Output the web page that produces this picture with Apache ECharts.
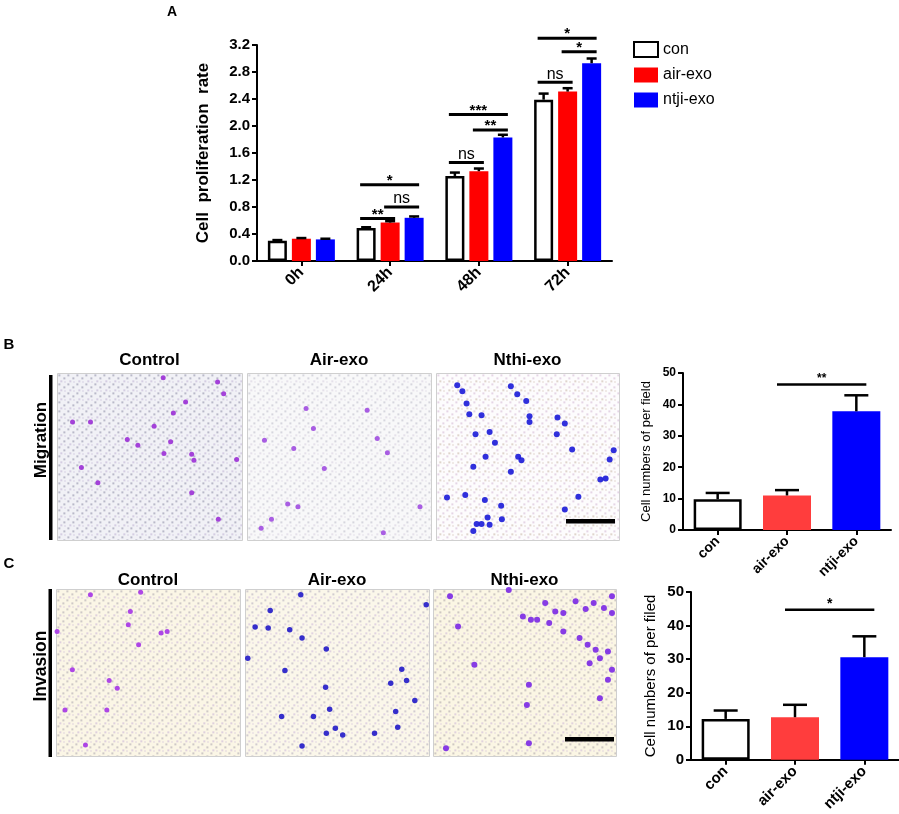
<!DOCTYPE html>
<html><head><meta charset="utf-8">
<script src="https://cdn.jsdelivr.net/npm/echarts@6/dist/echarts.min.js"></script>
<style>html,body{margin:0;padding:0;background:#fff}#c{width:899px;height:814px}</style>
</head><body><div id="c"></div>
<script>
// ---------- Panel A data ----------
const hours = ['0h', '24h', '48h', '72h'];
const groupNames = ['con', 'air-exo', 'ntji-exo'];
const conRate = [0.30, 0.49, 1.26, 2.39];
const airRate = [0.33, 0.57, 1.33, 2.51];
const ntjiRate = [0.32, 0.64, 1.83, 2.93];
const conRateErr = [0.01, 0.01, 0.05, 0.09];
const airRateErr = [0.01, 0.02, 0.04, 0.05];
const ntjiRateErr = [0.01, 0.02, 0.04, 0.07];
// [hour index, from group, to group, height, label]
const rateBrackets = [
  [1, 0, 2, 1.13, '*'], [1, 0, 1, 0.63, '**'], [1, 1, 2, 0.80, 'ns'],
  [2, 0, 2, 2.17, '***'], [2, 1, 2, 1.94, '**'], [2, 0, 1, 1.46, 'ns'],
  [3, 0, 2, 3.30, '*'], [3, 1, 2, 3.10, '*'], [3, 0, 1, 2.65, 'ns']
];
// ---------- Panel B / C data ----------
const countCats = ['con', 'air-exo', 'ntji-exo'];
const migCounts = [9.8, 11.0, 37.8];
const migErr = [2.0, 1.7, 5.1];
const invCounts = [12.2, 12.7, 30.6];
const invErr = [2.5, 3.7, 6.2];
const migBrackets = [[1, 2, 46.3, '**']];
const invBrackets = [[1, 2, 44.7, '*']];
const fieldTitles = ['Control', 'Air-exo', 'Nthi-exo'];
// stained cells visible in the micrographs, [x %, y %] of each field
const migControlCells = [[57.4,2.8],[86.8,5.4],[69.5,17.3],[62.9,23.9],[52.5,31.9],[18.1,29.3],[8.4,29.3],[38.0,39.8],[43.7,43.2],[61.4,41.2],[72.8,48.6],[74.0,52.2],[57.8,48.2],[97.1,51.8],[13.2,56.6],[22.1,65.7],[72.8,71.7],[87.2,87.6],[90.1,12.4]];
const migAirCells = [[32.1,21.3],[36.1,33.3],[65.3,22.3],[70.8,39.2],[76.3,47.8],[25.4,45.2],[9.5,40.2],[42.0,57.2],[22.1,78.5],[27.7,80.1],[94.0,80.1],[13.3,87.6],[7.7,93.0],[74.1,95.6]];
const migNthiCells = [[11.6,7.4],[14.4,11.0],[16.7,18.3],[18.2,24.7],[24.9,25.3],[21.6,36.7],[29.3,35.3],[32.2,41.8],[27.1,50.2],[20.4,56.2],[40.9,8.0],[44.4,12.7],[49.3,16.7],[51.1,25.9],[51.1,29.3],[44.9,50.2],[46.7,52.2],[40.9,59.2],[66.0,36.7],[70.4,30.3],[66.4,26.7],[74.4,45.8],[97.1,46.2],[94.9,51.8],[89.8,63.7],[92.7,63.1],[6.0,74.5],[16.0,73.1],[26.7,76.1],[35.6,79.5],[36.0,87.6],[28.2,86.5],[22.2,90.4],[24.9,90.4],[29.3,90.8],[20.4,94.6],[70.4,81.7],[77.8,74.1]];
const invControlCells = [[18.7,3.4],[46.0,2.0],[40.4,13.4],[60.4,25.4],[57.1,26.4],[39.3,21.4],[44.9,33.4],[8.9,48.4],[28.9,54.8],[33.3,59.4],[27.6,72.4],[4.9,72.4],[16.0,93.4],[0.6,25.4]];
const invAirCells = [[13.7,12.8],[30.3,3.4],[5.5,22.8],[12.6,23.4],[24.3,24.4],[31.0,29.4],[44.2,36.0],[1.5,41.4],[21.7,48.8],[85.2,48.0],[87.8,54.8],[79.2,56.4],[43.8,58.8],[46.0,72.0],[19.9,76.4],[37.2,76.4],[49.1,83.4],[44.2,86.4],[53.1,87.4],[70.4,86.4],[83.0,82.8],[92.3,66.8],[81.9,73.4],[31.0,94.0],[98.5,9.4]];
const invNthiCells = [[9.3,4.4],[13.7,22.4],[61.3,8.4],[66.8,13.4],[71.2,25.4],[77.9,7.4],[83.4,12.0],[87.8,8.4],[93.4,11.4],[97.8,14.4],[53.5,18.4],[56.9,18.4],[63.5,20.4],[80.1,29.4],[84.5,33.4],[88.9,36.4],[91.2,41.4],[95.6,37.4],[85.6,44.4],[97.8,48.4],[95.6,54.4],[91.2,65.4],[52.4,57.4],[51.3,69.4],[52.4,92.4],[7.1,95.4],[41.4,0.6],[22.6,45.4],[49.1,16.4],[71.2,14.4],[97.8,4.4]];

// ---------- styles / layout ----------
const FONT = '"Liberation Sans", Arial, sans-serif';
const BAR_A = 19, GAP_A = 5;
const gridA = {left: 257, top: 45, width: 355, height: 216};
const gridB = {left: 683, top: 373, width: 208, height: 157};
const gridC = {left: 691, top: 592, width: 208, height: 168};
const fieldsB = [[57, 373, 185, 167], [247, 373, 184, 167], [436, 373, 183, 167]];
const fieldsC = [[56, 589, 184, 167], [245, 589, 184, 167], [433, 589, 183, 167]];

function pattern(bg, dot, dot2) {
  const c = document.createElement('canvas');
  c.width = 9; c.height = 9;
  const x = c.getContext('2d');
  x.fillStyle = bg; x.fillRect(0, 0, 9, 9);
  x.fillStyle = dot;
  x.fillRect(1, 1, 1.6, 1.6); x.fillRect(6, 4, 1.6, 1.6);
  x.fillStyle = dot2;
  x.fillRect(3, 7, 1.5, 1.5); x.fillRect(7, 8, 1, 1);
  return {image: c, repeat: 'repeat'};
}
const fieldFills = [
  pattern('#f1f1f6', '#9a9ab0', '#c0b2d4'),
  pattern('#f8f8f9', '#c4c4cf', '#d7cfe0'),
  pattern('#fdfcfd', '#d8c0da', '#c9b7a8'),
  pattern('#fbf6e6', '#b7b0b6', '#c9b3d6'),
  pattern('#fbf7ea', '#bcb5c2', '#cdb8da'),
  pattern('#fbf6e4', '#b6aeb0', '#cdb6d8')
];

function axisCommon(fs) {
  return {
    axisLine: {show: true, lineStyle: {color: '#000', width: 2}},
    axisTick: {show: true, lineStyle: {color: '#000', width: 2}, length: 5},
    axisLabel: {color: '#000', fontFamily: FONT, fontWeight: 'bold', fontSize: fs},
    splitLine: {show: false}
  };
}
function catAxis(grid, data, fs) {
  return Object.assign(axisCommon(fs), {gridIndex: grid, type: 'category', data: data,
    axisTick: {show: true, alignWithLabel: true, lineStyle: {color: '#000', width: 2}, length: 5},
    axisLabel: {color: '#000', fontFamily: FONT, fontWeight: 'bold', fontSize: fs, rotate: 45, margin: 9}});
}

function errSeries(name, vals, errs, offset, xi, capW, lw) {
  return {
    type: 'custom', name: name, xAxisIndex: xi, yAxisIndex: xi, z: 5,
    data: vals.map((v, i) => [i, v, errs[i]]),
    encode: {x: 0, y: 1},
    renderItem: function (p, api) {
      const i = api.value(0), v = api.value(1), e = api.value(2);
      const a = api.coord([i, v]), b = api.coord([i, v + e]);
      const x = a[0] + offset;
      return {type: 'group', children: [
        {type: 'line', shape: {x1: x, y1: a[1], x2: x, y2: b[1]}, style: {stroke: '#000', lineWidth: lw}},
        {type: 'line', shape: {x1: x - capW / 2, y1: b[1], x2: x + capW / 2, y2: b[1]}, style: {stroke: '#000', lineWidth: lw}}
      ]};
    }
  };
}

const option = {
  animation: false,
  backgroundColor: '#fff',
  textStyle: {fontFamily: FONT},
  legend: {
    left: 628, top: 36, orient: 'vertical', itemWidth: 24, itemHeight: 15, itemGap: 9,
    data: groupNames, textStyle: {fontSize: 16, color: '#000', fontFamily: FONT}, icon: 'rect'
  },
  grid: [gridA, gridB, gridC].concat(fieldsB.concat(fieldsC).map(f => ({left: f[0], top: f[1], width: f[2], height: f[3]}))),
  xAxis: [catAxis(0, hours, 16), catAxis(1, countCats, 14), catAxis(2, countCats, 15)]
    .concat([3, 4, 5, 6, 7, 8].map(g => ({gridIndex: g, type: 'value', min: 0, max: 100, show: false}))),
  yAxis: [
    Object.assign(axisCommon(15), {gridIndex: 0, type: 'value', min: 0, max: 3.2, interval: 0.4,
      name: 'Cell  proliferation  rate', nameLocation: 'middle', nameGap: 45,
      nameTextStyle: {fontSize: 17, fontWeight: 'bold', color: '#000', fontFamily: FONT},
      axisLabel: {color: '#000', fontFamily: FONT, fontWeight: 'bold', fontSize: 15, margin: 7, formatter: v => v.toFixed(1)}}),
    Object.assign(axisCommon(12), {gridIndex: 1, type: 'value', min: 0, max: 50, interval: 10,
      name: 'Cell numbers of per field', nameLocation: 'middle', nameGap: 30,
      nameTextStyle: {fontSize: 13, color: '#000', fontFamily: FONT},
      axisLabel: {color: '#000', fontFamily: FONT, fontWeight: 'bold', fontSize: 12, margin: 7}}),
    Object.assign(axisCommon(15), {gridIndex: 2, type: 'value', min: 0, max: 50, interval: 10,
      name: 'Cell numbers of per filed', nameLocation: 'middle', nameGap: 33,
      nameTextStyle: {fontSize: 15, color: '#000', fontFamily: FONT},
      axisLabel: {color: '#000', fontFamily: FONT, fontWeight: 'bold', fontSize: 15, margin: 7}})
  ].concat([3, 4, 5, 6, 7, 8].map(g => ({gridIndex: g, type: 'value', min: 0, max: 100, inverse: true, show: false}))),
  series: [],
  graphic: []
};

// Panel A bars
const rateSets = [[conRate, conRateErr], [airRate, airRateErr], [ntjiRate, ntjiRateErr]];
const rateStyles = [
  {color: '#fff', borderColor: '#000', borderWidth: 2.5},
  {color: '#ff0000'},
  {color: '#0000ff'}
];
rateSets.forEach((s, gi) => {
  option.series.push({type: 'bar', name: groupNames[gi], xAxisIndex: 0, yAxisIndex: 0,
    data: s[0], barWidth: BAR_A, barGap: (GAP_A / BAR_A * 100) + '%', itemStyle: rateStyles[gi]});
});
rateSets.forEach((s, gi) => {
  option.series.push(errSeries('err' + gi, s[0], s[1], (gi - 1) * (BAR_A + GAP_A), 0, 10, 2.5));
});
option.series.push({
  type: 'custom', name: 'sigA', xAxisIndex: 0, yAxisIndex: 0, z: 6, clip: false,
  data: rateBrackets.map(b => [b[0], b[1], b[2], b[3]]), encode: {x: 0, y: 3},
  renderItem: function (p, api) {
    const b = rateBrackets[p.dataIndex];
    const c = api.coord([b[0], b[3]]);
    const step = BAR_A + GAP_A;
    const x1 = c[0] + (b[1] - 1) * step - 6, x2 = c[0] + (b[2] - 1) * step + 5;
    const isNs = b[4] === 'ns';
    return {type: 'group', children: [
      {type: 'line', shape: {x1: x1, y1: c[1], x2: x2, y2: c[1]}, style: {stroke: '#000', lineWidth: 3}},
      {type: 'text', style: {text: b[4], x: (x1 + x2) / 2, y: c[1] - (isNs ? 8 : 4), align: 'center', verticalAlign: 'middle',
        font: (isNs ? 'normal 16px ' : 'bold 15px ') + FONT, fill: '#000'}}
    ]};
  }
});

// Panels B and C bar charts
const countColors = [
  {color: '#fff', borderColor: '#000', borderWidth: 2.5},
  {color: '#ff3d3d'},
  {color: '#0000ff'}
];
[[migCounts, migErr, migBrackets, 1, 12], [invCounts, invErr, invBrackets, 2, 14]].forEach(cfg => {
  const [vals, errs, br, ai, fs] = cfg;
  option.series.push({type: 'bar', name: 'counts' + ai, xAxisIndex: ai, yAxisIndex: ai, barWidth: 48,
    data: vals.map((v, i) => ({value: v, itemStyle: countColors[i]}))});
  option.series.push(errSeries('cerr' + ai, vals, errs, 0, ai, 24, 2.5));
  option.series.push({
    type: 'custom', name: 'sig' + ai, xAxisIndex: ai, yAxisIndex: ai, z: 6, clip: false,
    data: br.map(b => [b[0], b[1], b[2]]), encode: {x: 0, y: 2},
    renderItem: function (p, api) {
      const b = br[p.dataIndex];
      const a = api.coord([b[0], b[2]]), z = api.coord([b[1], b[2]]);
      const x1 = a[0] - 10, x2 = z[0] + 10;
      return {type: 'group', children: [
        {type: 'line', shape: {x1: x1, y1: a[1], x2: x2, y2: a[1]}, style: {stroke: '#000', lineWidth: 2.5}},
        {type: 'text', style: {text: b[3], x: (x1 + x2) / 2, y: a[1] - 6, align: 'center', verticalAlign: 'middle',
          font: 'bold ' + fs + 'px ' + FONT, fill: '#000'}}
      ]};
    }
  });
});

// micrograph cells
const cellSets = [
  [migControlCells, '#9b2fd6', 5], [migAirCells, '#a04ce0', 5], [migNthiCells, '#1a1ad8', 6],
  [invControlCells, '#a534e6', 5], [invAirCells, '#2018c8', 5.5], [invNthiCells, '#7a28e4', 6]
];
cellSets.forEach((s, k) => {
  option.series.push({type: 'scatter', name: 'cells' + k, xAxisIndex: 3 + k, yAxisIndex: 3 + k,
    data: s[0], symbolSize: s[2], itemStyle: {color: s[1], opacity: 0.9}, z: 3});
});

// graphics: fields, titles, labels, bars
const G = option.graphic;
fieldsB.concat(fieldsC).forEach((f, k) => {
  G.push({type: 'rect', left: f[0], top: f[1], z: 0, shape: {width: f[2], height: f[3]},
    style: {fill: fieldFills[k], stroke: '#cfcfcf', lineWidth: 1}});
});
[[fieldsB, 360], [fieldsC, 580]].forEach(row => {
  row[0].forEach((f, i) => {
    G.push({type: 'text', x: f[0] + f[2] / 2, y: row[1], z: 10,
      style: {text: fieldTitles[i], align: 'center', verticalAlign: 'middle', font: 'bold 17px ' + FONT, fill: '#000'}});
  });
});
G.push({type: 'text', x: 41, y: 440, rotation: Math.PI / 2, z: 10,
  style: {text: 'Migration', align: 'center', verticalAlign: 'middle', font: 'bold 17px ' + FONT, fill: '#000'}});
G.push({type: 'text', x: 41, y: 666, rotation: Math.PI / 2, z: 10,
  style: {text: 'Invasion', align: 'center', verticalAlign: 'middle', font: 'bold 17.5px ' + FONT, fill: '#000'}});
G.push({type: 'rect', left: 49, top: 375, z: 10, shape: {width: 3.5, height: 165}, style: {fill: '#000'}});
G.push({type: 'rect', left: 48.5, top: 589, z: 10, shape: {width: 3.5, height: 168}, style: {fill: '#000'}});
G.push({type: 'rect', left: 566, top: 519, z: 10, shape: {width: 49, height: 4.5}, style: {fill: '#000'}});
G.push({type: 'rect', left: 565, top: 737, z: 10, shape: {width: 49, height: 4.5}, style: {fill: '#000'}});
G.push({type: 'text', x: 172, y: 12, z: 10, style: {text: 'A', align: 'center', verticalAlign: 'middle', font: 'bold 14px ' + FONT, fill: '#000'}});
G.push({type: 'text', x: 9, y: 345, z: 10, style: {text: 'B', align: 'center', verticalAlign: 'middle', font: 'bold 15px ' + FONT, fill: '#000'}});
G.push({type: 'text', x: 9, y: 564, z: 10, style: {text: 'C', align: 'center', verticalAlign: 'middle', font: 'bold 15px ' + FONT, fill: '#000'}});

const chart = echarts.init(document.getElementById('c'));
chart.setOption(option);
</script></body></html>
